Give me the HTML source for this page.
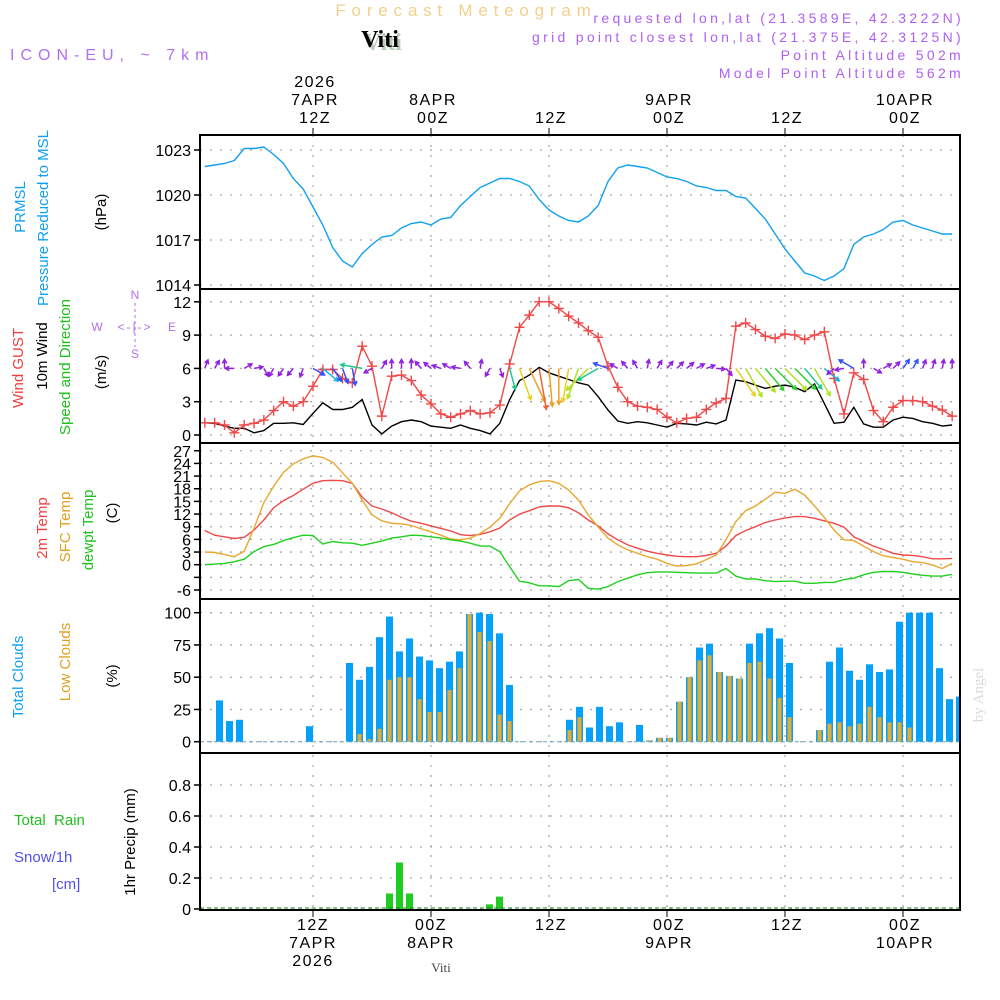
<!DOCTYPE html>
<html><head><meta charset="utf-8">
<style>
html,body{margin:0;padding:0;background:#fff;}
svg{display:block;font-family:"Liberation Sans",sans-serif;}
</style></head>
<body>
<svg id="chart" width="1000" height="1000" viewBox="0 0 1000 1000" xmlns="http://www.w3.org/2000/svg">
<defs><clipPath id="plotclip"><rect x="200" y="130" width="760" height="785"/></clipPath></defs>
<g>
<text x="466" y="16" text-anchor="middle" font-size="17" fill="#f2d08c" letter-spacing="5.8">Forecast Meteogram</text>
<text x="383" y="50" text-anchor="middle" font-family="Liberation Serif,serif" font-weight="bold" font-size="24" fill="#b8ccb8">Viti</text>
<text x="380" y="47" text-anchor="middle" font-family="Liberation Serif,serif" font-weight="bold" font-size="24" fill="#000">Viti</text>
<text x="10" y="60" font-size="16" fill="#b070f0" letter-spacing="6">ICON-EU, ~ 7km</text>
<text x="964" y="23" text-anchor="end" font-size="14" fill="#b060f0" letter-spacing="3.3">requested lon,lat (21.3589E, 42.3222N)</text>
<text x="964" y="42" text-anchor="end" font-size="14" fill="#b060f0" letter-spacing="3.3">grid point closest lon,lat (21.375E, 42.3125N)</text>
<text x="964" y="60" text-anchor="end" font-size="14" fill="#b060f0" letter-spacing="3.3">Point Altitude 502m</text>
<text x="964" y="78" text-anchor="end" font-size="14" fill="#b060f0" letter-spacing="3.3">Model Point Altitude 562m</text>
</g>
<g id="grid"></g>
<g id="marks" clip-path="url(#plotclip)"></g>
<g id="frame"></g>
<g id="labels" font-size="15">
<text transform="translate(25,207) rotate(-90)" text-anchor="middle" fill="#10a0f0">PRMSL</text>
<text transform="translate(48,218) rotate(-90)" text-anchor="middle" fill="#10a0f0">Pressure Reduced to MSL</text>
<text transform="translate(106,212) rotate(-90)" text-anchor="middle" fill="#000">(hPa)</text>
<text transform="translate(23,368) rotate(-90)" text-anchor="middle" fill="#f04040">Wind GUST</text>
<text transform="translate(47,356) rotate(-90)" text-anchor="middle" fill="#000">10m Wind</text>
<text transform="translate(70,367) rotate(-90)" text-anchor="middle" fill="#20c020">Speed and Direction</text>
<text transform="translate(106,372) rotate(-90)" text-anchor="middle" fill="#000">(m/s)</text>
<g font-size="12" fill="#b070f0">
<text x="135" y="299" text-anchor="middle">N</text><text x="135" y="358" text-anchor="middle">S</text>
<text x="97" y="331" text-anchor="middle">W</text><text x="172" y="331" text-anchor="middle">E</text>
<text x="135" y="331" text-anchor="middle" letter-spacing="2">&lt;-|-&gt;</text>
<line x1="135" y1="303" x2="135" y2="347" stroke="#b070f0" stroke-dasharray="3,3"/>
</g>
<text transform="translate(47,528) rotate(-90)" text-anchor="middle" fill="#f04040">2m Temp</text>
<text transform="translate(70,527) rotate(-90)" text-anchor="middle" fill="#e0a020">SFC Temp</text>
<text transform="translate(93,530) rotate(-90)" text-anchor="middle" fill="#20c020">dewpt Temp</text>
<text transform="translate(117,513) rotate(-90)" text-anchor="middle" fill="#000">(C)</text>
<text transform="translate(23,677) rotate(-90)" text-anchor="middle" fill="#10a0f0">Total Clouds</text>
<text transform="translate(70,662) rotate(-90)" text-anchor="middle" fill="#e0a020">Low Clouds</text>
<text transform="translate(117,676) rotate(-90)" text-anchor="middle" fill="#000">(%)</text>
<text x="14" y="825" fill="#20c020" xml:space="preserve">Total  Rain</text>
<text x="14" y="862" fill="#5050f0">Snow/1h</text>
<text x="52" y="889" fill="#5050f0">[cm]</text>
<text transform="translate(135,842) rotate(-90)" text-anchor="middle" fill="#000">1hr Precip (mm)</text>
<text x="441" y="972" text-anchor="middle" font-family="Liberation Serif,serif" font-size="13" fill="#444">Viti</text>
<text transform="translate(983,695) rotate(-90)" text-anchor="middle" font-family="Liberation Serif,serif" font-size="15" fill="#d8dcd8">by Angel</text>
</g>
</svg>
<script>
const hours = [];
for (let h = 1; h <= 77; h++) hours.push(h);
const pressure = [1021.9,1022.0,1022.1,1022.3,1023.1,1023.1,1023.2,1022.7,1022.1,1021.1,1020.4,1019.2,1018.0,1016.5,1015.6,1015.2,1016.1,1016.7,1017.2,1017.3,1017.8,1018.1,1018.2,1018.0,1018.4,1018.5,1019.3,1019.9,1020.5,1020.8,1021.1,1021.1,1020.9,1020.6,1019.7,1019.0,1018.6,1018.3,1018.2,1018.6,1019.3,1020.9,1021.8,1022.0,1021.9,1021.8,1021.5,1021.2,1021.1,1020.9,1020.6,1020.5,1020.3,1020.3,1019.9,1019.8,1019.1,1018.4,1017.4,1016.4,1015.6,1014.8,1014.6,1014.3,1014.6,1015.1,1016.7,1017.2,1017.4,1017.7,1018.2,1018.3,1018.0,1017.8,1017.6,1017.4,1017.4];
const gust = [1.1,1.1,0.9,0.2,0.9,1.05,1.35,2.2,3.0,2.6,3.0,4.4,5.9,5.9,5.1,4.7,8.0,6.2,1.7,5.3,5.4,4.9,3.6,2.8,1.9,1.6,1.9,2.2,1.9,2.0,2.7,6.4,9.7,10.8,12.0,12.0,11.4,10.7,10.1,9.4,8.8,6.2,4.3,3.0,2.6,2.5,2.3,1.6,1.1,1.5,1.6,2.3,2.9,3.3,9.8,10.1,9.5,8.9,8.7,9.1,9.0,8.6,9.0,9.3,5.1,1.9,5.6,5.0,2.2,1.2,2.5,3.1,3.1,3.0,2.6,2.25,1.7];
const wind10 = [1.1,1.05,0.8,0.6,0.6,0.2,0.4,1.05,1.05,1.1,0.95,1.95,2.9,2.3,2.3,2.5,3.2,0.9,0.1,0.8,1.2,1.35,1.2,0.8,0.7,0.6,0.9,0.6,0.4,0.1,1.05,3.2,4.9,5.4,6.1,5.6,5.3,5.0,4.7,4.5,3.45,2.25,1.26,1.05,1.2,1.1,0.9,0.7,1.05,1.0,0.9,1.15,1.0,1.35,4.95,4.8,4.5,4.2,4.4,4.5,4.3,3.9,4.6,2.85,1.05,1.15,2.5,1.0,0.7,0.7,1.35,1.6,1.5,1.2,1.05,0.8,0.9];
const windToward = [20,30,0,270,60,80,150,210,215,220,200,120,130,145,160,170,280,240,30,0,0,0,320,310,290,300,280,320,10,210,160,165,160,155,170,175,180,190,200,225,240,290,300,320,330,10,30,40,45,50,60,70,95,140,145,150,140,140,135,135,135,140,150,130,230,260,300,0,120,60,45,35,30,20,15,10,0];
const temp2m = [8.1,7.0,6.6,6.2,6.5,8.2,10.6,13.5,15.2,16.4,17.9,19.3,19.9,20.0,19.9,19.3,16.0,13.9,13.2,12.3,11.2,10.3,9.8,9.2,8.6,8.0,7.1,6.9,7.2,7.8,8.7,10.6,12.0,12.8,13.7,13.9,13.9,13.5,12.3,10.6,9.2,7.3,5.9,4.7,3.9,3.2,2.7,2.3,2.0,1.9,1.9,2.2,2.7,4.4,6.9,8.1,9.0,10.0,10.6,11.1,11.4,11.4,11.0,10.4,9.8,8.9,6.6,5.5,4.4,3.6,2.7,2.3,2.2,1.9,1.4,1.4,1.5];
const tempSfc = [3.0,2.9,2.4,1.9,3.2,8.6,14.7,18.6,21.9,23.9,25.1,25.8,25.4,24.3,21.8,19.3,15.3,11.8,10.4,9.8,9.7,9.3,8.5,7.8,7.0,6.1,5.9,6.3,7.4,8.9,11.0,14.5,17.5,18.9,19.7,19.9,19.3,17.7,15.3,11.8,8.9,6.3,4.7,3.5,2.7,1.9,1.3,0.3,-0.3,-0.2,0.2,1.2,2.3,5.9,10.2,12.8,13.9,15.5,17.2,16.9,17.9,16.5,13.9,11.2,8.2,5.9,5.7,4.4,3.1,2.1,1.7,1.3,0.7,0.5,-0.1,-0.9,0.3];
const dewpt = [0.0,0.15,0.3,0.7,1.3,3.1,4.3,4.8,5.7,6.4,7.0,6.9,4.9,5.5,5.2,5.1,4.6,5.1,5.6,6.3,6.6,7.0,6.9,6.6,6.3,5.9,5.6,5.1,4.4,4.4,3.1,-0.5,-3.9,-4.3,-5.0,-5.0,-5.2,-3.8,-3.5,-5.6,-5.8,-5.2,-4.0,-3.2,-2.4,-1.9,-1.7,-1.7,-1.8,-1.9,-2.0,-2.0,-2.0,-0.9,-2.7,-3.4,-3.4,-3.8,-4.0,-3.9,-3.9,-4.4,-4.4,-4.2,-4.2,-3.5,-3.2,-2.4,-1.8,-1.6,-1.6,-1.8,-2.2,-2.5,-2.7,-2.7,-2.3];
const totalClouds = [0,32,16,17,0,0,0,0,0,0,12,0,0,0,61,48,58,81,97,70,80,66,63,57,62,70,99,100,99,84,44,0,0,0,0,0,17,27,11,27,12,15,0,13,1,3,3,31,50,73,76,54,51,49,76,84,88,80,61,0,0,9,62,73,55,48,60,54,56,93,100,100,100,57,33,35];
const lowClouds = [0,0,0,0,0,0,0,0,0,0,0,0,0,0,0,6,2,10,48,50,50,33,23,23,40,57,99,85,78,21,16,0,0,0,0,0,9,19,0,0,0,0,0,0,1,3,3,31,50,63,67,54,51,49,61,62,49,34,19,0,0,9,14,15,12,14,27,19,15,15,11,0,0,0,0,0];
const rain = [0,0,0,0,0,0,0,0,0,0,0,0,0,0,0,0,0,0,0.10,0.30,0.10,0,0,0,0,0,0,0,0.03,0.08,0,0,0,0,0,0,0,0,0,0,0,0,0,0,0,0,0,0,0,0,0,0,0,0,0,0,0,0,0,0,0,0,0,0,0,0,0,0,0,0,0,0,0,0,0,0];
const pTicks = [1014,1017,1020,1023];
const wTicks = [0,3,6,9,12];
const tTicks = [-6,-3,0,3,6,9,12,15,18,21,24,27];
const tTickLabels = ["-6","","0","3","6","9","12","15","18","21","24","27"];
const cTicks = [0,25,50,75,100];
const rTicks = [0,0.2,0.4,0.6,0.8];
const rTickLabels = ["0","0.2","0.4","0.6","0.8"];
const topDates = [["12Z","7APR","2026",12],["00Z","8APR","",24],["12Z","","",36],["00Z","9APR","",48],["12Z","","",60],["00Z","10APR","",72]];

const NS = "http://www.w3.org/2000/svg";
const L = 200, R = 960;
const x = h => 313 + (h - 12) * 9.833;
const xBar = k => 209.5 + k * 10;
const yP = p => 150 + (1023 - p) * 15;
const yW = v => 435 - v * 11.1;
const yT = t => 564.7 - t * 4.22;
const yC = c => 741.7 - c * 1.29;
const yR = r => 909 - r * 155;
const panels = [[135,289],[289,443],[443,599],[599,753],[753,910]];

function el(tag, attrs, parent) {
  const e = document.createElementNS(NS, tag);
  for (const k in attrs) e.setAttribute(k, attrs[k]);
  parent.appendChild(e);
  return e;
}
const grid = document.getElementById('grid');
const marks = document.getElementById('marks');
const frame = document.getElementById('frame');

function hGrid(ticks, yf, labels, name) {
  ticks.forEach((t, i) => {
    const y = yf(t);
    const g = el('line', {x1: L, x2: R, y1: y, y2: y, stroke: '#aaa', 'stroke-dasharray': '2,8', 'stroke-width': 1.3}, grid);
    
    
    const tk = el('line', {x1: L - 6, x2: L, y1: y, y2: y, stroke: '#000', 'stroke-width': 1.5}, frame);
    
    
    const lab = labels ? labels[i] : String(t);
    if (lab !== '') {
      const tx = el('text', {x: L - 9, y: y + 6, 'text-anchor': 'end', 'font-size': 16}, frame);
      tx.textContent = lab;
      
      
    }
  });
}
hGrid(pTicks, yP, null, 'pressure-axis');
hGrid(wTicks, yW, null, 'wind-axis');
hGrid(tTicks, yT, tTickLabels, 'temp-axis');
hGrid(cTicks, yC, null, 'cloud-axis');
hGrid(rTicks, yR, rTickLabels, 'precip-axis');

[12,24,36,48,60,72].forEach(h => {
  const vx = x(h);
  const v = el('line', {x1: vx, x2: vx, y1: 135, y2: 910, stroke: '#aaa', 'stroke-dasharray': '2,8', 'stroke-width': 1.3}, grid);
  
  
  const t1 = el('line', {x1: vx, x2: vx, y1: 128, y2: 135, stroke: '#000'}, frame);
  
  
  const t2 = el('line', {x1: vx, x2: vx, y1: 910, y2: 917, stroke: '#000'}, frame);
  
  
});
topDates.forEach(d => {
  const vx = x(d[3]) + 2;
  const lines = [d[2], d[1], d[0]].filter(s => s !== '');
  lines.forEach((s, i) => {
    const t = el('text', {x: vx, y: 129 - 6 - (lines.length - 1 - i) * 18, 'text-anchor': 'middle', 'font-size': 16, 'letter-spacing': 1.5}, frame);
    t.textContent = s;
    
    
  });
  [d[0], d[1], d[2]].filter(s => s !== '').forEach((s, i) => {
    const t = el('text', {x: vx - 2 + (d[3] >= 36 ? 2 : 0), y: 930 + i * 18, 'text-anchor': 'middle', 'font-size': 16, 'letter-spacing': 1.5}, frame);
    t.textContent = s;
    
    
  });
});

function line(arr, yf, color, name) {
  const pts = arr.map((v, i) => x(hours[i]).toFixed(1) + ',' + yf(v).toFixed(1)).join(' ');
  const p = el('polyline', {points: pts, fill: 'none', stroke: color, 'stroke-width': 1.4}, marks);
  
  
}
line(pressure, yP, '#10a0f0', 'pressure-line');
line(wind10, yW, '#000', 'wind-10m-line');
line(gust, yW, '#f04848', 'wind-gust-line');
gust.forEach((v, i) => {
  const cx = x(hours[i]), cy = yW(v);
  const m = el('path', {d: `M${cx-5},${cy}H${cx+5}M${cx},${cy-5}V${cy+5}`, stroke: '#f04848', 'stroke-width': 1.4}, marks);
  
  
});
function windColor(s) {
  if (s < 1.5) return '#9020e0';
  if (s < 2.6) return '#3050ff';
  if (s < 3.0) return '#20b0e0';
  if (s < 4.0) return '#20c890';
  if (s < 4.5) return '#30d030';
  if (s < 4.85) return '#b0e020';
  if (s < 5.2) return '#e8d020';
  if (s < 5.8) return '#f0a020';
  return '#f06030';
}
wind10.forEach((s, i) => {
  const x0 = x(hours[i]), y0 = yW(6);
  const len = Math.max(9, s * 6.8);
  const a = windToward[i] * Math.PI / 180;
  const dx = Math.sin(a) * len, dy = -Math.cos(a) * len;
  const x1 = x0 + dx, y1 = y0 + dy;
  const ha = Math.atan2(dy, dx);
  const hl = 4.5;
  const col = windColor(s);
  const d = `M${x0},${y0}L${x1},${y1}M${x1 - hl*Math.cos(ha-0.5)},${y1 - hl*Math.sin(ha-0.5)}L${x1},${y1}L${x1 - hl*Math.cos(ha+0.5)},${y1 - hl*Math.sin(ha+0.5)}`;
  const p = el('path', {d: d, stroke: col, 'stroke-width': 1.5, fill: 'none'}, marks);
  
  
});
line(temp2m, yT, '#f04848', 'temp-2m-line');
line(tempSfc, yT, '#e8a830', 'temp-sfc-line');
line(dewpt, yT, '#20d020', 'dewpoint-line');

totalClouds.forEach((c, k) => {
  const cx = xBar(k);
  const b = el('rect', {x: cx - 3.5, y: yC(c), width: 7, height: Math.max(0.01, yC(0) - yC(c)) , fill: '#05a0f8'}, marks);
  
  
  const lc = lowClouds[k];
  const o = el('rect', {x: cx - 2, y: yC(lc), width: 4, height: yC(0) - yC(lc), fill: '#e6ac30'}, marks);
  
  
});
const zc = el('line', {x1: L, x2: R, y1: yC(0), y2: yC(0), stroke: '#6aa0c0', 'stroke-dasharray': '4,3'}, marks);


rain.forEach((r, k) => {
  if (r <= 0) return;
  const cx = xBar(k);
  const b = el('rect', {x: cx - 3.5, y: yR(r), width: 7, height: yR(0) - yR(r), fill: '#20cc20'}, marks);
  
  
});
const zr = el('line', {x1: L, x2: R, y1: yR(0) - 1, y2: yR(0) - 1, stroke: '#208020', 'stroke-dasharray': '4,3'}, marks);



panels.forEach((p, i) => {
  const r = el('rect', {x: L, y: p[0], width: R - L, height: p[1] - p[0], fill: 'none', stroke: '#000', 'stroke-width': 2}, frame);
  
  
});
</script>
</body></html>
